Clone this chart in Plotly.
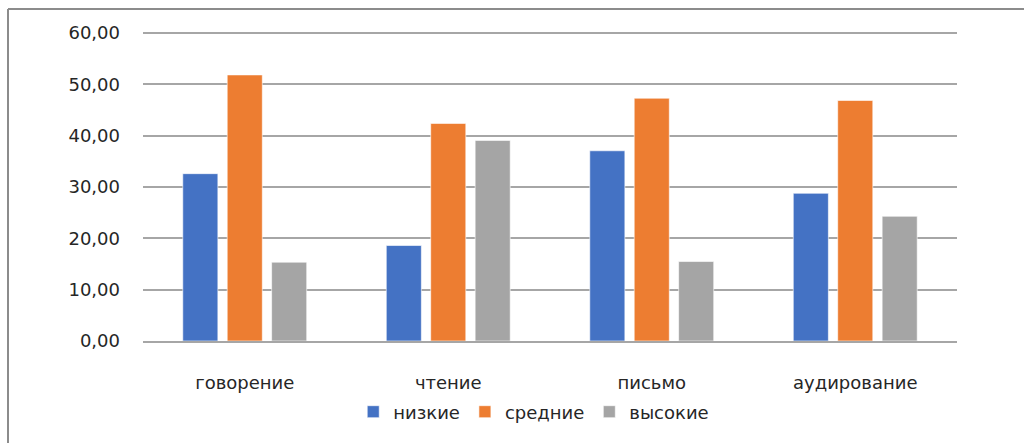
import plotly.graph_objects as go

categories = ["говорение", "чтение", "письмо", "аудирование"]
series_names = ["низкие", "средние", "высокие"]
low = [32.6, 18.6, 37.06, 28.78]
mid = [51.84, 42.39, 47.3, 46.86]
high = [15.36, 39.08, 15.48, 24.3]
colors = ["#4472C4", "#ED7D31", "#A5A5A5"]
y_ticks = [0, 10, 20, 30, 40, 50, 60]

fig = go.Figure()
for name, vals, col in zip(series_names, [low, mid, high], colors):
    fig.add_trace(go.Bar(
        x=categories, y=vals, name=name,
        marker=dict(color=col, line=dict(color="rgba(255,255,255,0.6)", width=1)),
    ))

W, H = 1024, 443
L, R, T, B = 143, 67, 32, 102
pw, ph = W - L - R, H - T - B

def px_to_paper_x(px):
    return (px - L) / pw

def px_to_paper_y(py):
    return (H - B - py) / ph

fig.update_layout(
    width=W, height=H,
    margin=dict(l=L, r=R, t=T, b=B, pad=0),
    paper_bgcolor="white", plot_bgcolor="white",
    barmode="group", bargap=0.345, bargroupgap=0.21,
    separators=", ",
    font=dict(family="DejaVu Sans", size=18, color="#262626"),
    showlegend=True,
    legend=dict(orientation="h", x=0.48, xanchor="center", y=px_to_paper_y(412), yanchor="middle",
                font=dict(size=18, color="#262626"), traceorder="normal", itemwidth=30),
    yaxis=dict(range=[0, 60.2], tickvals=y_ticks, tickformat=".2f", showgrid=True,
               gridcolor="#A6A6A6", gridwidth=1.5, zeroline=False, showline=False,
               ticks="", ticklabelstandoff=22, fixedrange=True),
    xaxis=dict(showline=True, linecolor="#A6A6A6", linewidth=1.5, ticks="",
               ticklabelstandoff=25, showgrid=False),
    shapes=[
        dict(type="line", xref="paper", yref="paper",
             x0=px_to_paper_x(8), x1=px_to_paper_x(1030), y0=px_to_paper_y(9), y1=px_to_paper_y(9),
             line=dict(color="#8C8C8C", width=2)),
        dict(type="line", xref="paper", yref="paper",
             x0=px_to_paper_x(8), x1=px_to_paper_x(8), y0=px_to_paper_y(9), y1=px_to_paper_y(450),
             line=dict(color="#8C8C8C", width=2)),
    ],
)

fig.write_html("out.html")
